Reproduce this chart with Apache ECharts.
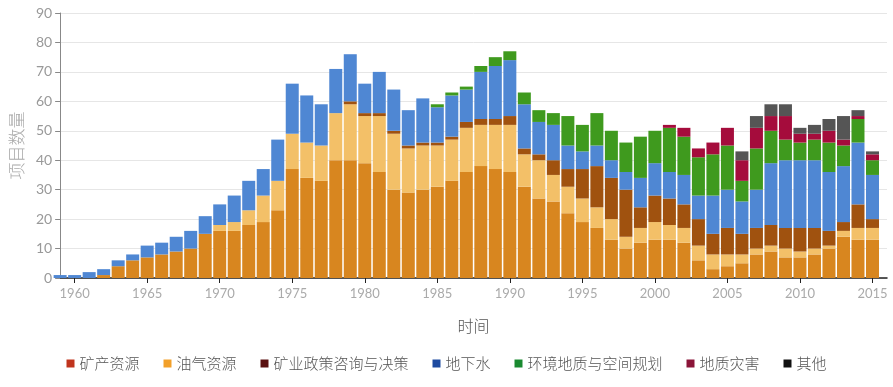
<!DOCTYPE html>
<html>
<head>
<meta charset="utf-8">
<script src="https://cdn.jsdelivr.net/npm/echarts@6/dist/echarts.min.js"></script>
<style>html,body{margin:0;padding:0;background:#fff;}#c{width:893px;height:387px;}</style>
</head>
<body>
<div id="c"></div>
<script>
// categories: 1959 ... 2016 (2016 is an empty slot that closes the axis)
const years = [];
for (let y = 1959; y <= 2016; y++) years.push(String(y));
const tickYears = ['1960','1965','1970','1975','1980','1985','1990','1995','2000','2005','2010','2015'];
const seriesNames = ['矿产资源','油气资源','矿业政策咨询与决策','地下水','环境地质与空间规划','地质灾害','其他'];
// values 1959 ... 2015
const mineral = [0,0,0,1,4,6,7,8,9,10,15,16,16,18,19,23,37,34,33,40,40,39,36,30,29,30,31,33,36,38,37,36,31,27,26,22,19,17,13,10,12,13,13,12,6,3,4,5,8,9,7,7,8,10,14,13,13];
const oilgas  = [0,0,0,0,0,0,0,0,0,0,0,2,3,5,9,10,12,12,12,16,19,16,19,19,15,15,14,14,15,14,15,16,11,13,9,9,8,7,7,4,5,6,5,5,5,5,4,3,2,2,3,2,2,1,2,4,4];
const policy  = [0,0,0,0,0,0,0,0,0,0,0,0,0,0,0,0,0,0,0,0,1,1,1,1,1,1,1,1,2,2,2,3,2,2,5,6,10,14,14,16,7,9,9,8,9,7,9,7,7,7,7,8,7,5,3,8,3];
const groundwater = [1,1,2,2,2,2,4,4,5,6,6,7,9,10,9,14,17,16,14,15,16,10,14,14,12,15,12,14,11,16,18,19,15,11,12,8,6,7,6,6,10,11,9,10,8,13,13,11,13,21,23,23,23,20,19,21,15];
const environment = [0,0,0,0,0,0,0,0,0,0,0,0,0,0,0,0,0,0,0,0,0,0,0,0,0,0,1,1,1,2,3,3,4,4,4,10,9,11,10,10,14,11,15,13,13,14,15,7,14,11,7,6,7,10,7,8,5];
const hazard  = [0,0,0,0,0,0,0,0,0,0,0,0,0,0,0,0,0,0,0,0,0,0,0,0,0,0,0,0,0,0,0,0,0,0,0,0,0,0,0,0,0,0,1,3,3,4,6,7,7,5,8,3,2,4,2,1,2];
const other   = [0,0,0,0,0,0,0,0,0,0,0,0,0,0,0,0,0,0,0,0,0,0,0,0,0,0,0,0,0,0,0,0,0,0,0,0,0,0,0,0,0,0,0,0,0,0,0,3,4,4,4,2,3,4,8,2,1];

const values = [mineral, oilgas, policy, groundwater, environment, hazard, other];
const barColors = ['#d8861f','#f3c068','#a0520f','#4f87d3','#3f9a1e','#a50c3c','#555555'];
const legendColors = ['#c0341d','#f2a02a','#5a1010','#1d4aa0','#1a8a30','#8b1538','#111111'];

const chart = echarts.init(document.getElementById('c'), null, {renderer:'canvas'});
const series = seriesNames.map((name, i) => ({
  name: name,
  type: 'bar',
  stack: 'total',
  barWidth: 13,
  clip: true,
  itemStyle: {color: barColors[i]},
  emphasis: {disabled: true},
  data: values[i].slice()
}));

const showYear = (idx, val) => tickYears.indexOf(String(val)) >= 0;

chart.setOption({
  animation: false,
  backgroundColor: '#ffffff',
  grid: {left: 58, right: 6, top: 13, bottom: 109, containLabel: false},
  legend: {
    bottom: 11,
    left: 'center',
    itemWidth: 8, itemHeight: 8, itemGap: 24,
    icon: 'rect',
    textStyle: {fontSize: 15, color: '#555', fontFamily: 'Noto Sans CJK SC', fontWeight: 300},
    data: seriesNames.map((n, i) => ({name: n, itemStyle: {color: legendColors[i]}}))
  },
  xAxis: {
    type: 'category',
    data: years,
    boundaryGap: false,
    name: '时间',
    nameLocation: 'middle',
    nameGap: 40,
    nameTextStyle: {fontSize: 16, color: '#555', fontFamily: 'Noto Sans CJK SC', fontWeight: 300},
    axisLine: {show: true, lineStyle: {color: '#222', width: 1.5}},
    axisTick: {show: true, interval: showYear, length: 5, lineStyle: {color: '#222'}},
    axisLabel: {interval: showYear, fontSize: 13, color: '#aaa', fontFamily: 'Lato', margin: 9},
    splitLine: {show: false}
  },
  yAxis: {
    type: 'value',
    min: 0, max: 90, interval: 10,
    name: '项目数量',
    nameLocation: 'middle',
    nameGap: 32,
    nameTextStyle: {fontSize: 17, color: '#aaa', fontFamily: 'Noto Sans CJK SC', fontWeight: 300},
    axisLine: {show: true, lineStyle: {color: '#888'}},
    axisTick: {show: true, length: 5, lineStyle: {color: '#888'}},
    axisLabel: {fontSize: 14, color: '#999', fontFamily: 'Lato', margin: 8},
    splitLine: {show: true, lineStyle: {color: '#e6e6e6', width: 1}}
  },
  series: series
});
</script>
</body>
</html>
